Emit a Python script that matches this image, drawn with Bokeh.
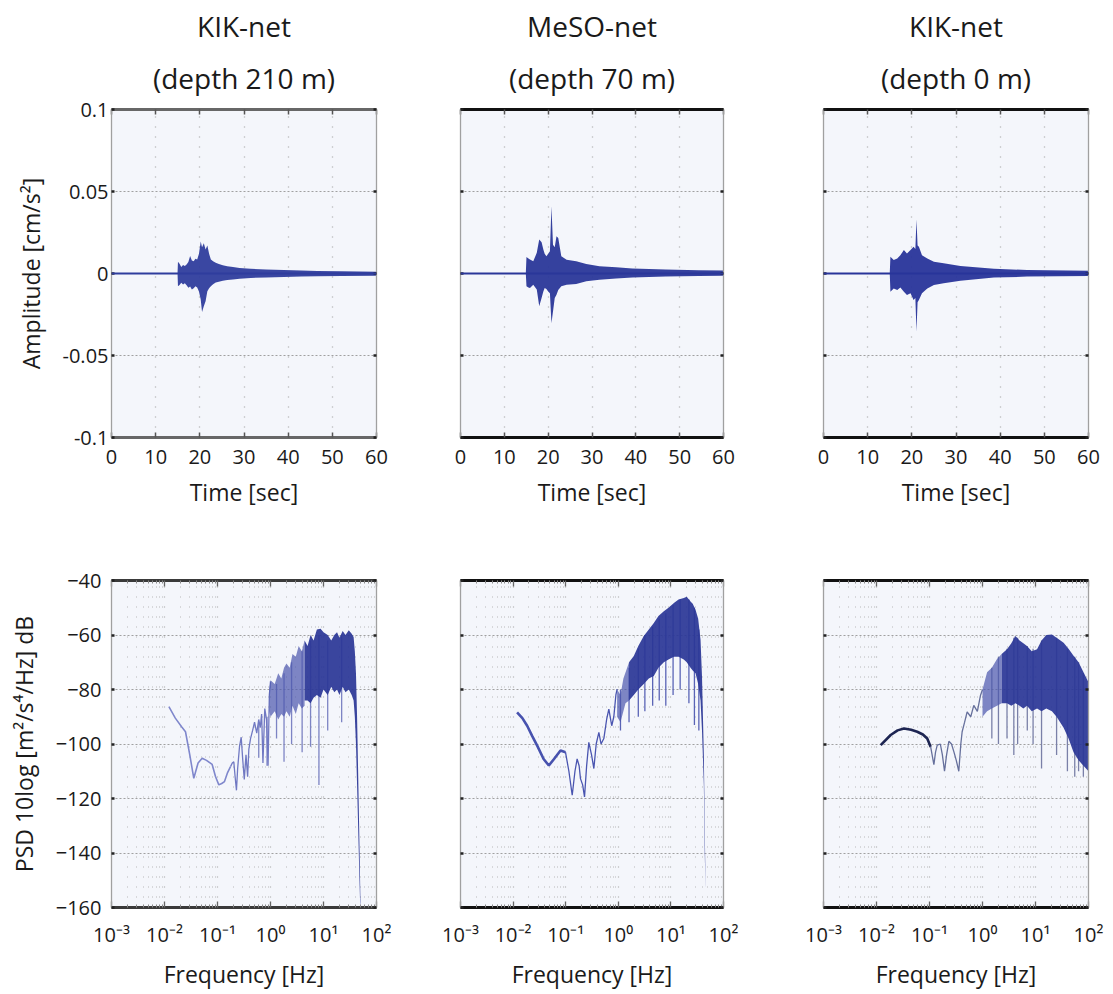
from bokeh.plotting import figure
from bokeh.models import FixedTicker, LinearAxis, LogAxis, Title, Span, CustomLabelingPolicy
from bokeh.layouts import row, column
from bokeh.embed import file_html
from bokeh.resources import INLINE

FONT = "Open Sans"

# ---------------- labels / ticks ----------------
station_names = ["KIK-net", "MeSO-net", "KIK-net"]
depth_labels = ["(depth 210 m)", "(depth 70 m)", "(depth 0 m)"]

time_ticks = [0, 10, 20, 30, 40, 50, 60]
amp_ticks = [-0.1, -0.05, 0, 0.05, 0.1]
amp_tick_labels = ["-0.1", "-0.05", "0", "0.05", "0.1"]
freq_ticks = [1e-3, 1e-2, 1e-1, 1e0, 1e1, 1e2]
freq_tick_labels = ["10\u207b\u00b3", "10\u207b\u00b2", "10\u207b\u00b9", "10\u2070", "10\u00b9", "10\u00b2"]
psd_ticks = [-160, -140, -120, -100, -80, -60, -40]

# ---------------- seismogram envelopes (time [s], upper, lower) ----------------
w1_t = [14.95, 15.05, 15.4, 15.8, 16.2, 16.6, 17.0, 17.4, 17.8, 18.2, 18.6, 19.0, 19.4, 19.8, 20.2,
        20.5, 20.9, 21.3, 21.7, 22.1, 22.5, 23.0, 23.6, 24.3, 25.2, 26.2, 27.5, 29, 31.5, 35, 39,
        43, 46.6, 52, 60]
w1_hi = [0.0, 0.0071, 0.0060, 0.0039, 0.0052, 0.0045, 0.0055, 0.0070, 0.0106, 0.0080, 0.0075,
         0.0090, 0.0085, 0.0120, 0.0195, 0.0160, 0.0185, 0.0146, 0.0170, 0.0120, 0.0085, 0.0075,
         0.0065, 0.0058, 0.0050, 0.0044, 0.0039, 0.0034, 0.0029, 0.0025, 0.0021, 0.0018, 0.0015,
         0.0013, 0.0011]
w1_lo = [0.0, -0.0077, -0.0070, -0.0057, -0.0067, -0.0060, -0.0072, -0.0087, -0.0080, -0.0097,
         -0.0090, -0.0077, -0.0085, -0.0110, -0.0159, -0.0234, -0.0200, -0.0169, -0.0108, -0.0090,
         -0.0077, -0.0065, -0.0055, -0.0050, -0.0044, -0.0040, -0.0037, -0.0032, -0.0027, -0.0024,
         -0.0021, -0.0019, -0.0017, -0.0015, -0.0013]

w2_t = [14.9, 15.05, 15.5, 15.85, 16.6, 17.4, 17.96, 18.5, 18.9, 19.2, 19.6, 20.0, 20.4, 20.75,
        21.1, 21.5, 21.9, 22.3, 23.0, 24.2, 26.4, 28.7, 31.7, 35.5, 39.2, 46.8, 54.3, 60]
w2_hi = [0.0, 0.0101, 0.0092, 0.0085, 0.0074, 0.0126, 0.0207, 0.0190, 0.0146, 0.0120, 0.0105,
         0.0120, 0.0136, 0.0410, 0.0176, 0.0160, 0.0227, 0.0217, 0.0105, 0.0084, 0.0074, 0.0058,
         0.0044, 0.0038, 0.0030, 0.0024, 0.0020, 0.0018]
w2_lo = [0.0, -0.0078, -0.0085, -0.0088, -0.0068, -0.0098, -0.0200, -0.0150, -0.0110, -0.0088,
         -0.0095, -0.0109, -0.0120, -0.0303, -0.0232, -0.0150, -0.0130, -0.0100, -0.0078, -0.0068,
         -0.0064, -0.0048, -0.0038, -0.0030, -0.0024, -0.0018, -0.0015, -0.0014]

w3_t = [15.0, 15.15, 15.9, 16.7, 17.4, 18.2, 18.9, 19.7, 20.4, 20.8, 21.05, 21.3, 21.6, 22.3, 23.5,
        25.0, 27.2, 31.0, 38.6, 46.1, 60]
w3_hi = [0.0, 0.0102, 0.0082, 0.0092, 0.0112, 0.0143, 0.0122, 0.0143, 0.0163, 0.0150, 0.0329,
         0.0170, 0.0163, 0.0112, 0.0092, 0.0072, 0.0062, 0.0045, 0.0029, 0.0021, 0.0017]
w3_lo = [0.0, -0.0111, -0.0091, -0.0101, -0.0085, -0.0111, -0.0131, -0.0121, -0.0161, -0.0150,
         -0.0354, -0.0175, -0.0161, -0.0121, -0.0091, -0.0070, -0.0060, -0.0044, -0.0025, -0.0019,
         -0.0015]

# ---------------- PSD spectra ----------------
# panel 1 (KIK-net 210 m)
psd1_low_f = [0.0121, 0.016, 0.021, 0.0249, 0.03, 0.0357, 0.043, 0.0514, 0.062, 0.0793, 0.092,
              0.106, 0.12, 0.1355, 0.155, 0.176]
psd1_low_db = [-86.3, -90.5, -93.7, -95.5, -104, -112.6, -107, -105.2, -106, -107.5, -112, -115,
               -114.5, -113.8, -110.5, -108.3]
psd1_mid_f = [0.176, 0.19, 0.203, 0.215, 0.228, 0.24, 0.26, 0.28, 0.30, 0.32, 0.345, 0.37, 0.39,
              0.42, 0.46, 0.5, 0.55, 0.6, 0.64, 0.68, 0.72, 0.78, 0.84, 0.9, 0.95, 1.0]
psd1_mid_db = [-108.3, -107, -106.5, -112, -117, -109, -101, -97.5, -106, -113, -104, -112, -102,
               -98, -95, -92, -96, -91, -94, -89, -107, -87, -91, -108, -82, -77]
psd1_sparse_f = [0.95, 1.0, 1.2, 1.4, 1.6, 1.8, 2.0, 2.3, 2.6, 3.0, 3.4, 3.9, 4.4]
psd1_sparse_hi = [-80, -76.6, -78, -74, -76, -72, -70.5, -72, -67, -68, -64, -66, -62]
psd1_sparse_lo = [-88, -90, -88, -91, -89, -90, -88, -90, -86, -89, -85, -87, -86]
psd1_band_f = [4.4, 5.0, 5.7, 6.5, 7.5, 8.8, 10, 12, 14, 16, 18, 20, 23, 26, 30, 34, 37, 39, 41,
               43, 45, 47, 49, 50]
psd1_band_hi = [-62, -64, -60, -62, -58, -57.7, -59, -60, -62, -60, -59, -61, -58.5, -60, -58.3,
                -59.5, -60.7, -66, -74, -90, -110, -130, -150, -160]
psd1_band_lo = [-84, -84, -85, -83, -82, -83, -80, -82, -79, -81, -80, -82, -79, -81, -80, -82,
                -84, -90, -100, -115, -130, -145, -158, -160]
psd1_dip_f = [0.6, 0.86, 1.3, 1.8, 2.5, 3.95, 5.7, 8.2, 12, 22]
psd1_dip_top = [-92, -90, -78, -74, -70, -66, -62, -60, -62, -60]
psd1_dip_bot = [-105, -108, -98, -106.5, -100, -103, -101, -115, -95, -92]

# panel 2 (MeSO-net 70 m)
psd2_low_f = [0.0119, 0.015, 0.0185, 0.023, 0.0287, 0.038, 0.0478, 0.06, 0.0797, 0.099]
psd2_low_db = [-88.4, -90.5, -93.3, -97, -100.6, -105.5, -107.9, -105.5, -102.4, -103]
psd2_mid_f = [0.099, 0.115, 0.133, 0.15, 0.165, 0.18, 0.191, 0.21, 0.228, 0.25, 0.275, 0.31, 0.343,
              0.38, 0.427, 0.47, 0.531, 0.6, 0.661, 0.75, 0.822, 0.9, 0.95]
psd2_mid_db = [-103, -110, -118.8, -110, -105.5, -108, -112.7, -115, -119.4, -108, -99.4, -104,
               -109, -100, -95.7, -100, -98, -91, -87.2, -93.3, -90, -82, -79.9]
psd2_sparse_f = [0.95, 1.1, 1.25, 1.37, 1.6]
psd2_sparse_hi = [-80, -82, -76, -73.8, -70]
psd2_sparse_lo = [-90, -92, -88, -85, -84]
psd2_band_f = [1.6, 1.97, 2.4, 3.05, 3.8, 4.73, 5.8, 7.34, 9.0, 11.4, 14, 17.6, 20, 23.6, 26, 29.4,
               33, 36.6, 39, 42.3, 44, 45.5]
psd2_band_hi = [-70, -67.7, -64, -60.4, -58, -55.6, -53, -51.3, -50, -48.3, -47, -46.4, -46,
                -47.7, -48.5, -50.7, -54, -61.7, -75, -104, -130, -151.7]
psd2_band_lo = [-84, -82, -80, -78, -76, -75, -72, -70, -69, -68, -68, -69, -70, -72, -73, -74,
                -78, -84, -95, -115, -140, -153]
psd2_dip_f = [1.1, 1.6, 2.4, 3.2, 4.5, 6.0, 8.0, 11, 15, 22, 28, 34]
psd2_dip_top = [-80, -72, -65, -60, -57, -54, -52, -49, -47, -47, -50, -58]
psd2_dip_bot = [-95, -92, -90, -88, -86, -84, -86, -82, -80, -85, -93, -95]

# panel 3 (KIK-net 0 m)
psd3_low_f = [0.012, 0.0185, 0.025, 0.033, 0.045, 0.0587, 0.075, 0.0906, 0.105]
psd3_low_db = [-100.4, -96.7, -95, -94.3, -94.8, -95.5, -96.5, -98, -101]
psd3_mid_f = [0.105, 0.121, 0.13, 0.14, 0.16, 0.175, 0.192, 0.21, 0.232, 0.26, 0.288, 0.32, 0.357,
              0.39, 0.413, 0.46, 0.513, 0.6, 0.685, 0.8, 0.916, 1.0]
psd3_mid_db = [-101, -107.6, -103, -100.4, -100, -104, -110, -104, -99, -100, -102.8, -106, -110,
               -100, -95.5, -92, -88.2, -90, -85.8, -88, -82.2, -80]
psd3_sparse_f = [1.0, 1.22, 1.5, 1.88, 2.3]
psd3_sparse_hi = [-80, -73.7, -72, -68.8, -67]
psd3_sparse_lo = [-90, -88, -87, -86, -85]
psd3_band_f = [2.3, 2.9, 3.5, 4.17, 5.0, 5.9, 6.9, 8.5, 10.7, 13, 16, 20.4, 25, 33.9, 42, 52.2, 65,
               80.5, 100]
psd3_band_hi = [-67, -65.2, -63, -60.4, -62, -63, -64, -66, -65.2, -62, -60, -59.8, -61, -62.8,
                -65, -67.6, -70, -73.7, -77.3]
psd3_band_lo = [-85, -85, -86, -85, -86, -87, -86, -88, -87, -88, -87, -88, -90, -94, -98, -103,
                -106, -108, -110]
psd3_dip_f = [1.5, 2.0, 2.9, 3.9, 4.6, 7.0, 9.0, 13, 25, 40, 55, 65, 80]
psd3_dip_top = [-72, -68, -65, -61, -61, -64, -65, -62, -61, -65, -68, -70, -74]
psd3_dip_bot = [-98, -100, -98, -104, -100, -95, -100, -109, -104, -110, -112, -110, -112]

# ---------------- layout constants ----------------
FRAME_W = [265, 263, 265]
LEFTS = [111, 64, 80]
RIGHTS = [20, 20, 22]
TOP_B1, FRAME_H1, BOT_B1 = 109, 328, 80
TOP_B2, FRAME_H2, BOT_B2 = 63, 327, 86

BG = "#f4f6fb"
EDGE = ["#676767", "#111111", "#111111"]
EDGE2 = ["#3a3a3a", "#111111", "#111111"]
SIDE = "#a0a0a0"
TEXT = "#1a1a1a"

minor_freq = [k * 10.0 ** e for e in range(-3, 2) for k in range(2, 10)]

HIDE = CustomLabelingPolicy(code="for (const i of indices) { indices.unset(i) }\nreturn indices")


def style_common(ax, show_labels):
    ax.major_label_text_font = FONT
    ax.major_label_text_font_size = "20px" if show_labels else "0px"
    ax.major_label_text_color = TEXT
    ax.axis_label_text_font = FONT
    ax.axis_label_text_font_size = "23px"
    ax.axis_label_text_font_style = "normal"
    ax.axis_label_text_color = TEXT
    ax.major_tick_out = 0
    ax.minor_tick_out = 0
    if not show_labels:
        ax.major_label_policy = HIDE
        ax.major_label_standoff = 0


def add_titles(p, col):
    p.add_layout(Title(text=depth_labels[col], align="center", text_font=FONT,
                       text_font_size="28px", text_font_style="normal", text_color=TEXT,
                       standoff=25), "above")
    p.add_layout(Title(text=station_names[col], align="center", text_font=FONT,
                       text_font_size="28px", text_font_style="normal", text_color=TEXT,
                       standoff=0), "above")


def wave_panel(col, t, hi, lo, color):
    left, right = LEFTS[col], RIGHTS[col]
    p = figure(width=left + FRAME_W[col] + right, height=TOP_B1 + FRAME_H1 + BOT_B1,
               x_range=(0, 60), y_range=(-0.1, 0.1), output_backend="svg",
               toolbar_location=None, title=None,
               min_border_left=left, min_border_right=right,
               min_border_top=TOP_B1, min_border_bottom=BOT_B1)
    p.background_fill_color = BG
    p.border_fill_color = "white"
    p.outline_line_color = None
    p.add_layout(LinearAxis(), "above")
    p.add_layout(LinearAxis(), "right")
    for ax in p.xaxis:
        ax.ticker = FixedTicker(ticks=time_ticks)
        ax.major_tick_in = 5
        ax.major_tick_line_color = "#555555"
        ax.major_tick_line_width = 1.5
        ax.axis_line_width = 3
        ax.axis_line_color = EDGE[col]
    for ax in p.yaxis:
        ax.ticker = FixedTicker(ticks=amp_ticks)
        ax.major_tick_in = 3
        ax.major_tick_line_color = "#222222"
        ax.major_tick_line_width = 2.5
        ax.axis_line_width = 1.3
        ax.axis_line_color = SIDE
        ax.major_label_overrides = dict(zip(amp_ticks, amp_tick_labels))
    style_common(p.below[0], True)
    style_common(p.above[0], False)
    style_common(p.left[0], col == 0)
    style_common(p.right[0], False)
    p.below[0].axis_label = "Time [sec]"
    p.below[0].major_label_standoff = 12
    p.below[0].axis_label_standoff = 9
    if col == 0:
        p.left[0].axis_label = "Amplitude [cm/s\u00b2]"
        p.left[0].major_label_standoff = 3
        p.left[0].axis_label_standoff = 13
    p.xgrid.grid_line_color = "#a8a8a8"
    p.xgrid.grid_line_dash = "1 9"
    p.xgrid.grid_line_width = 1.3
    p.ygrid.grid_line_color = "#a0a0a0"
    p.ygrid.grid_line_dash = "2 2"
    p.ygrid.grid_line_width = 1.2
    add_titles(p, col)
    p.add_layout(Span(location=0, dimension="width", line_color=color, line_width=2))
    p.varea(x=t, y1=lo, y2=hi, fill_color=color, fill_alpha=0.95)
    return p


def psd_panel(col, low_f, low_db, low_color, low_w, mid_f, mid_db, mid_color,
              sparse_f, sparse_hi, sparse_lo, band_f, band_hi, band_lo,
              dip_f, dip_top, dip_bot, dip_color):
    left, right = LEFTS[col], RIGHTS[col]
    p = figure(width=left + FRAME_W[col] + right, height=TOP_B2 + FRAME_H2 + BOT_B2,
               x_axis_type="log", x_range=(1e-3, 1e2), y_range=(-160, -40),
               output_backend="svg", toolbar_location=None, title=None,
               min_border_left=left, min_border_right=right,
               min_border_top=TOP_B2, min_border_bottom=BOT_B2)
    p.background_fill_color = BG
    p.border_fill_color = "white"
    p.outline_line_color = None
    p.add_layout(LogAxis(), "above")
    p.add_layout(LinearAxis(), "right")
    for ax in p.xaxis:
        ax.ticker = FixedTicker(ticks=freq_ticks, minor_ticks=minor_freq)
        ax.major_tick_in = 6
        ax.minor_tick_in = 3
        ax.major_tick_line_color = "#666666"
        ax.minor_tick_line_color = "#888888"
        ax.major_tick_line_width = 1.3
        ax.axis_line_width = 3
        ax.axis_line_color = EDGE2[col]
        ax.major_label_overrides = dict(zip(freq_ticks, freq_tick_labels))
    for ax in p.yaxis:
        ax.ticker = FixedTicker(ticks=psd_ticks)
        ax.major_tick_in = 3
        ax.major_tick_line_color = "#222222"
        ax.major_tick_line_width = 2.5
        ax.axis_line_width = 1.3
        ax.axis_line_color = SIDE
    style_common(p.below[0], True)
    style_common(p.above[0], False)
    style_common(p.left[0], col == 0)
    style_common(p.right[0], False)
    p.below[0].axis_label = "Frequency [Hz]"
    p.below[0].major_label_standoff = 13
    p.below[0].axis_label_standoff = 7
    if col == 0:
        p.left[0].axis_label = "PSD 10log [m\u00b2/s\u2074/Hz] dB"
        p.left[0].major_label_standoff = 10
        p.left[0].axis_label_standoff = 13
    p.xgrid.grid_line_color = "#a8a8a8"
    p.xgrid.grid_line_dash = "1 9"
    p.xgrid.grid_line_width = 1.2
    p.xgrid.minor_grid_line_color = "#b8b8b8"
    p.xgrid.minor_grid_line_dash = "1 9"
    p.xgrid.minor_grid_line_width = 1.0
    p.ygrid.grid_line_color = "#a0a0a0"
    p.ygrid.grid_line_dash = "2 2"
    p.ygrid.grid_line_width = 1.2
    p.segment(x0=dip_f, y0=dip_top, x1=dip_f, y1=dip_bot, line_color=dip_color, line_width=1.3)
    p.line(x=mid_f, y=mid_db, line_color=mid_color, line_width=1.3)
    p.varea(x=sparse_f, y1=sparse_lo, y2=sparse_hi, fill_color="#4a55ad", fill_alpha=0.7)
    p.varea(x=band_f, y1=band_lo, y2=band_hi, fill_color="#2b3797", fill_alpha=0.93)
    p.line(x=low_f, y=low_db, line_color=low_color, line_width=low_w)
    return p


top = [
    wave_panel(0, w1_t, w1_hi, w1_lo, "#2f3d9d"),
    wave_panel(1, w2_t, w2_hi, w2_lo, "#2a3799"),
    wave_panel(2, w3_t, w3_hi, w3_lo, "#28349a"),
]
bottom = [
    psd_panel(0, psd1_low_f, psd1_low_db, "#7f87cc", 1.6, psd1_mid_f, psd1_mid_db, "#7078c2",
              psd1_sparse_f, psd1_sparse_hi, psd1_sparse_lo,
              psd1_band_f, psd1_band_hi, psd1_band_lo,
              psd1_dip_f, psd1_dip_top, psd1_dip_bot, "#7d84c4"),
    psd_panel(1, psd2_low_f, psd2_low_db, "#4752ae", 2.6, psd2_mid_f, psd2_mid_db, "#4a55b0",
              psd2_sparse_f, psd2_sparse_hi, psd2_sparse_lo,
              psd2_band_f, psd2_band_hi, psd2_band_lo,
              psd2_dip_f, psd2_dip_top, psd2_dip_bot, "#5a64b6"),
    psd_panel(2, psd3_low_f, psd3_low_db, "#1d2552", 2.6, psd3_mid_f, psd3_mid_db, "#66709c",
              psd3_sparse_f, psd3_sparse_hi, psd3_sparse_lo,
              psd3_band_f, psd3_band_hi, psd3_band_lo,
              psd3_dip_f, psd3_dip_top, psd3_dip_bot, "#7a80a8"),
]

layout = column(row(*top, spacing=0), row(*bottom, spacing=0), spacing=0)
open("out.html", "w").write(file_html(layout, INLINE))
